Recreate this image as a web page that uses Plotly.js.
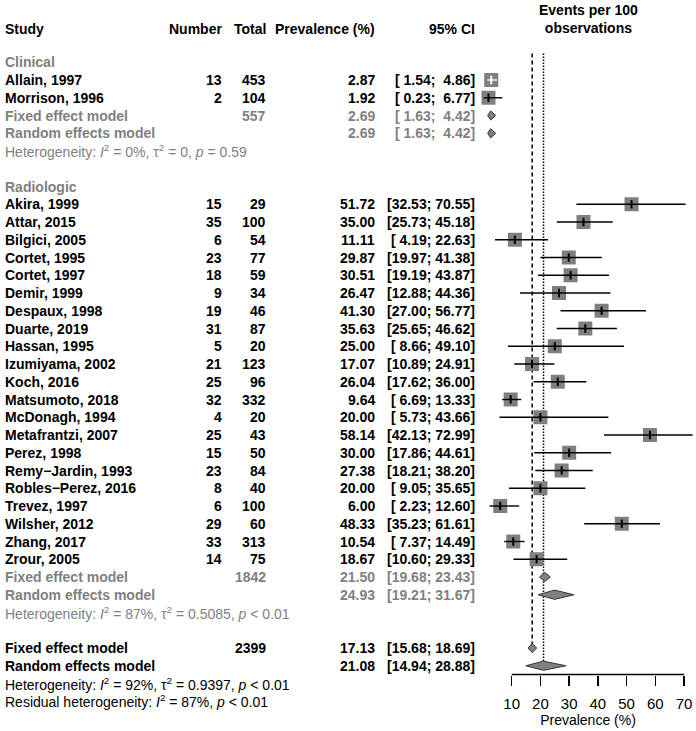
<!DOCTYPE html>
<html>
<head>
<meta charset="utf-8">
<script src="https://cdn.plot.ly/plotly-3.0.1.min.js"></script>
<style>
  html, body { margin: 0; padding: 0; background: #fff; }
  #chart { width: 696px; height: 731px; }
</style>
</head>
<body>
<div id="chart"></div>
<script>
// ---------------- DATA ----------------
const clinStudies = ["Allain, 1997", "Morrison, 1996"];
const clinEvents  = [13, 2];
const clinTotals  = [453, 104];
const clinPrev    = [2.87, 1.92];
const clinLower   = [1.54, 0.23];
const clinUpper   = [4.86, 6.77];

const radStudies = ["Akira, 1999", "Attar, 2015", "Bilgici, 2005", "Cortet, 1995", "Cortet, 1997",
  "Demir, 1999", "Despaux, 1998", "Duarte, 2019", "Hassan, 1995", "Izumiyama, 2002", "Koch, 2016",
  "Matsumoto, 2018", "McDonagh, 1994", "Metafrantzi, 2007", "Perez, 1998", "Remy\u2212Jardin, 1993",
  "Robles\u2212Perez, 2016", "Trevez, 1997", "Wilsher, 2012", "Zhang, 2017", "Zrour, 2005"];
const radEvents = [15, 35, 6, 23, 18, 9, 19, 31, 5, 21, 25, 32, 4, 25, 15, 23, 8, 6, 29, 33, 14];
const radTotals = [29, 100, 54, 77, 59, 34, 46, 87, 20, 123, 96, 332, 20, 43, 50, 84, 40, 100, 60, 313, 75];
const radPrev   = [51.72, 35.00, 11.11, 29.87, 30.51, 26.47, 41.30, 35.63, 25.00, 17.07, 26.04,
  9.64, 20.00, 58.14, 30.00, 27.38, 20.00, 6.00, 48.33, 10.54, 18.67];
const radLower  = [32.53, 25.73, 4.19, 19.97, 19.19, 12.88, 27.00, 25.65, 8.66, 10.89, 17.62,
  6.69, 5.73, 42.13, 17.86, 18.21, 9.05, 2.23, 35.23, 7.37, 10.60];
const radUpper  = [70.55, 45.18, 22.63, 41.38, 43.87, 44.36, 56.77, 46.62, 49.10, 24.91, 36.00,
  13.33, 43.66, 72.99, 44.61, 38.20, 35.65, 12.60, 61.61, 14.49, 29.33];

const groupNames   = ["Clinical", "Radiologic"];
const modelNames   = ["Fixed effect model", "Random effects model"];
const clinPoolTot  = [557, null];
const clinPoolEst  = [2.69, 2.69];
const clinPoolLo   = [1.63, 1.63];
const clinPoolHi   = [4.42, 4.42];
const radPoolTot   = [1842, null];
const radPoolEst   = [21.50, 24.93];
const radPoolLo    = [19.68, 19.21];
const radPoolHi    = [23.43, 31.67];
const allPoolTot   = [2399, null];
const allPoolEst   = [17.13, 21.08];
const allPoolLo    = [15.68, 14.94];
const allPoolHi    = [18.69, 28.88];

const hetI2   = ["0%", "87%", "92%"];
const hetTau2 = ["0", "0.5085", "0.9397"];
const hetP    = ["= 0.59", "&lt; 0.01", "&lt; 0.01"];
const residI2 = "87%";
const residP  = "&lt; 0.01";

const tickVals = [10, 20, 30, 40, 50, 60, 70];

// ---------------- LAYOUT CONSTANTS ----------------
const W = 696, H = 731;
const FONT = "Liberation Sans, Arial, Helvetica, sans-serif";
const GRAY = "#808080";
const ROW0_PX = 80, ROW_PX = 17.75;          // pixel centre of first study row, row pitch
const X_LEFT_PX = 480;                          // left edge of forest panel
const PX_PER_UNIT = 2.872, X10_PX = 511.7;
const xRange = [10 - (X10_PX - X_LEFT_PX) / PX_PER_UNIT, 10 + (W - X10_PX) / PX_PER_UNIT];
const yRange = [(H - ROW0_PX) / ROW_PX, -ROW0_PX / ROW_PX];
const AXIS_PX = 674.5;
const axisPos = (H - AXIS_PX) / H;
const SQ = 14;
const COL = { study: 3, number: 224, total: 268, prev: 377, ci: 477, forest: 588 };

const nb = s => s.replace(/ /g, "\u00a0");
const pad5 = v => v.toFixed(2).padStart(5, " ");
const ciText = (lo, hi) => nb("[" + pad5(lo) + "; " + pad5(hi) + "]");

const ann = [];
function txt(px, row, text, anchor, opt) {
  opt = opt || {};
  ann.push({
    xref: "paper", x: px / W, yref: "y", y: row, text: text,
    xanchor: anchor, yanchor: "middle", showarrow: false,
    font: { family: FONT, size: opt.size || 14, color: opt.color || "#000" }
  });
}
const b = s => "<b>" + s + "</b>";

// headers
const hdrRow = -2.85;
txt(COL.study, hdrRow, b("Study"), "left");
txt(COL.number, hdrRow, b("Number"), "right");
txt(COL.total, hdrRow, b("Total"), "right");
txt(COL.prev, hdrRow, b("Prevalence (%)"), "right");
txt(COL.ci, hdrRow, b("95% CI"), "right");
txt(COL.forest, -3.42, b("Events per 100<br>observations"), "center");

// build rows
const studyX = [], studyY = [], studyLo = [], studyHi = [];
const diamonds = { x: [], y: [] };
const DH = 0.26;

function addStudies(names, ev, tot, pr, lo, hi, startRow) {
  names.forEach((n, i) => {
    const r = startRow + i;
    txt(COL.study, r, b(n), "left");
    txt(COL.number, r, b(String(ev[i])), "right");
    txt(COL.total, r, b(String(tot[i])), "right");
    txt(COL.prev, r, b(pr[i].toFixed(2)), "right");
    txt(COL.ci, r, b(ciText(lo[i], hi[i])), "right");
    studyX.push(pr[i]); studyY.push(r); studyLo.push(lo[i]); studyHi.push(hi[i]);
  });
}
function addPooled(tot, est, lo, hi, startRow, color) {
  modelNames.forEach((m, i) => {
    const r = startRow + i;
    txt(COL.study, r, b(m), "left", { color });
    if (tot[i] !== null) txt(COL.total, r, b(String(tot[i])), "right", { color });
    txt(COL.prev, r, b(est[i].toFixed(2)), "right", { color });
    txt(COL.ci, r, b(ciText(lo[i], hi[i])), "right", { color });
    diamonds.x.push(lo[i], est[i], hi[i], est[i], lo[i], null);
    diamonds.y.push(r, r - DH, r, r + DH, r, null);
  });
}
function hetText(k) {
  return "Heterogeneity: <i>I</i><sup>2</sup> = " + hetI2[k] + ", \u03c4<sup>2</sup> = " + hetTau2[k] +
         ", <i>p</i> " + hetP[k];
}

// Clinical group
txt(COL.study, -1, b(groupNames[0]), "left", { color: GRAY });
addStudies(clinStudies, clinEvents, clinTotals, clinPrev, clinLower, clinUpper, 0);
addPooled(clinPoolTot, clinPoolEst, clinPoolLo, clinPoolHi, 2, GRAY);
txt(COL.study, 4, hetText(0), "left", { color: GRAY });

// Radiologic group
txt(COL.study, 6, b(groupNames[1]), "left", { color: GRAY });
addStudies(radStudies, radEvents, radTotals, radPrev, radLower, radUpper, 7);
const radEnd = 7 + radStudies.length;
addPooled(radPoolTot, radPoolEst, radPoolLo, radPoolHi, radEnd, GRAY);
txt(COL.study, radEnd + 2, hetText(1), "left", { color: GRAY });

// Overall
const allRow = radEnd + 4;
addPooled(allPoolTot, allPoolEst, allPoolLo, allPoolHi, allRow, "#000");
txt(COL.study, allRow + 2, hetText(2), "left");
txt(COL.study, allRow + 3, "Residual heterogeneity: <i>I</i><sup>2</sup> = " + residI2 + ", <i>p</i> " + residP, "left");

// CI lines: black if extending beyond square, white if contained in it
const ciOut = { x: [], y: [] }, ciIn = { x: [], y: [] };
const tickCol = [];
studyX.forEach((v, i) => {
  const inside = (studyHi[i] - studyLo[i]) * PX_PER_UNIT < SQ;
  const tgt = inside ? ciIn : ciOut;
  tgt.x.push(studyLo[i], studyHi[i], null);
  tgt.y.push(studyY[i], studyY[i], null);
  tickCol.push(inside ? "#fff" : "#000");
});

const traces = [
  { type: "scatter", mode: "markers", x: studyX, y: studyY, hoverinfo: "skip",
    marker: { symbol: "square", size: SQ, color: "#7f7f7f", line: { width: 0 } } },
  { type: "scatter", mode: "lines", x: ciOut.x, y: ciOut.y, hoverinfo: "skip",
    line: { color: "#000", width: 1.4 } },
  { type: "scatter", mode: "lines", x: ciIn.x, y: ciIn.y, hoverinfo: "skip",
    line: { color: "#fff", width: 1.4 } },
  { type: "scatter", mode: "markers", x: studyX, y: studyY, hoverinfo: "skip",
    marker: { symbol: "line-ns-open", size: 6, color: tickCol, line: { width: 2, color: tickCol } } },
  { type: "scatter", mode: "lines", x: diamonds.x, y: diamonds.y, fill: "toself",
    fillcolor: "#808080", hoverinfo: "skip", line: { color: "#333", width: 1 } }
];

const shapes = [
  { type: "line", xref: "x", yref: "y", x0: allPoolEst[0], x1: allPoolEst[0], y0: -1.5, y1: allRow,
    line: { color: "#000", width: 1.5, dash: "4px,3px" }, layer: "below" },
  { type: "line", xref: "x", yref: "y", x0: allPoolEst[1], x1: allPoolEst[1], y0: -1.5, y1: allRow + 1,
    line: { color: "#000", width: 1.5, dash: "1.5px,1.5px" }, layer: "below" },
  { type: "line", xref: "x", yref: "paper", x0: tickVals[0], x1: tickVals[tickVals.length - 1],
    y0: axisPos, y1: axisPos, line: { color: "#000", width: 1.5 } }
];

const layout = {
  width: W, height: H,
  margin: { l: 0, r: 0, t: 0, b: 0 },
  paper_bgcolor: "#fff", plot_bgcolor: "#fff",
  showlegend: false,
  font: { family: FONT, size: 14, color: "#000" },
  xaxis: {
    domain: [X_LEFT_PX / W, 1], range: xRange, anchor: "free", position: axisPos,
    showgrid: false, zeroline: false, showline: false,
    tickmode: "array", tickvals: tickVals, ticktext: tickVals.map(String),
    ticks: "outside", ticklen: 10, tickwidth: 1.5, tickcolor: "#000",
    ticklabelstandoff: 5,
    tickfont: { family: FONT, size: 15, color: "#000" },
    title: { text: "Prevalence (%)", font: { family: FONT, size: 14, color: "#000" }, standoff: 4 },
    fixedrange: true
  },
  yaxis: {
    domain: [0, 1], range: yRange, showgrid: false, zeroline: false, showline: false,
    showticklabels: false, ticks: "", fixedrange: true
  },
  shapes: shapes,
  annotations: ann
};

Plotly.newPlot("chart", traces, layout, { staticPlot: true, displayModeBar: false });
</script>
</body>
</html>
